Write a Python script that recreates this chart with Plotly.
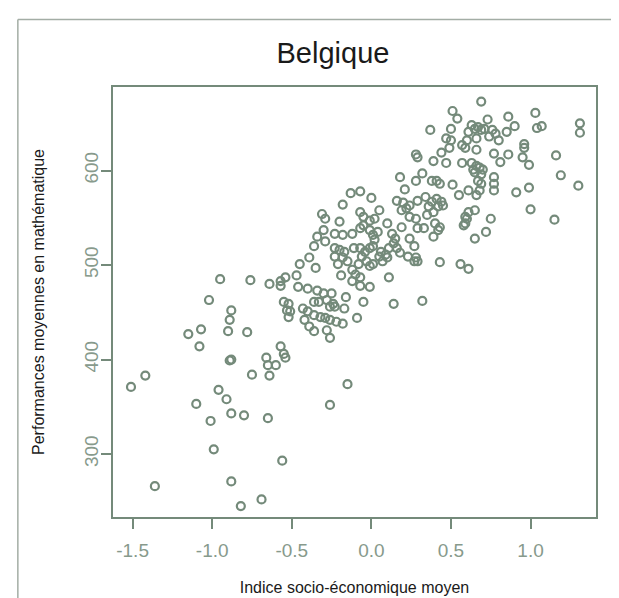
import plotly.graph_objects as go

# Indice socio-économique moyen (x) et performances moyennes en mathématique (y)
ises = [0.28, 0.29, 0.18, 0.28, 0.32, 0.21, -0.13, -0.07, 0.00, -0.18,
        0.16, 0.20, 0.19, 0.22, 0.24, 0.29, 0.05, -0.07, -0.31, -0.29,
        -0.05, 0.02, -0.20, 0.28,
        0.69, 0.51, 0.54, 0.37, 0.50, 0.73, 0.86, 1.03, 0.90, 0.85,
        1.04, 1.07, 1.31, 1.31, 0.63, 0.65, 0.67, 0.61, 0.69, 0.71,
        0.76, 0.78, 0.47, 0.50, 0.49, 0.60, 0.66, 0.74, 0.80, 0.57,
        0.59, 0.66, 0.96, 0.96, 0.44, 0.39, 0.47, 0.57, 0.63, 0.66,
        0.64, 0.68, 0.65, 0.69, 0.70, 0.77, 0.81, 0.86, 0.95, 0.99,
        1.16, 1.19, 1.30, 0.41, 0.43, 0.38, 0.51, 0.55, 0.61, 0.67,
        0.69, 0.68, 0.66, 0.77, 0.77, 0.77, 0.91, 0.99, 0.34, 0.38,
        0.41, 0.44, 0.36, 0.42, 0.45, 0.39, 0.35, 0.61, 0.65, 0.59,
        0.75, 1.00, 1.15,
        0.29, 0.33, 0.40, 0.43, 0.42, 0.39, 0.60, 0.59, 0.58, 0.72,
        0.65, 0.43, 0.56, 0.61, 0.29, 0.32,
        -0.01, 0.10, 0.19, 0.24, -0.05, -0.07, -0.30, -0.34, -0.29, -0.23,
        -0.18, -0.12, -0.01, 0.01, 0.04, 0.02, 0.13, 0.15, 0.14, 0.11,
        0.16, 0.24, 0.27, -0.36, -0.23, -0.20, -0.17, -0.11, -0.07, -0.04,
        -0.01, 0.01, 0.06, 0.09, 0.10, 0.07, 0.05, 0.18, 0.23, 0.28,
        0.27, -0.39, -0.23, -0.18, -0.15, -0.06, -0.03, -0.08, -0.01, 0.01,
        -0.21, -0.45, -0.35, -0.12, -0.10, -0.07, -0.19, -0.47, -0.54, -0.57,
        0.11, -0.64, -0.57, -0.12, -0.07, -0.01, -0.46, -0.40, -0.34, -0.30,
        -0.25, -0.16, -0.17, -0.05, 0.14, -0.55, -0.52, -0.53, -0.52, -0.51,
        -0.36, -0.33, -0.28, -0.24, -0.26, -0.23, -0.43, -0.40, -0.42, -0.36,
        -0.32, -0.29, -0.26, -0.22, -0.18, -0.09, -0.39, -0.36, -0.28, -0.26,
        -0.57,
        -0.95, -0.76, -1.02, -0.88, -0.89, -1.07, -1.15, -0.90, -0.78, -1.08,
        -1.51, -1.42, -1.36, -1.10, -1.01, -0.99, -0.96, -0.91, -0.88, -0.80,
        -0.75, -0.89, -0.88, -0.88, -0.66, -0.65, -0.60, -0.64, -0.55, -0.54,
        -0.65, -0.69, -0.15, -0.26, -0.56, -0.82]

maths = [617, 614, 593, 589, 597, 580, 576, 578, 571, 564,
         568, 566, 558, 560, 563, 568, 558, 556, 554, 549,
         551, 549, 546, 549,
         673, 663, 655, 643, 644, 654, 657, 661, 647, 641,
         645, 647, 650, 640, 648, 644, 646, 641, 643, 644,
         643, 639, 634, 632, 624, 632, 634, 636, 632, 627,
         624, 622, 628, 624, 619, 610, 608, 608, 608, 605,
         601, 603, 598, 596, 601, 618, 609, 617, 614, 606,
         616, 595, 584, 589, 586, 589, 585, 574, 579, 589,
         586, 579, 574, 593, 586, 579, 577, 582, 572, 567,
         570, 567, 562, 562, 563, 556, 553, 556, 558, 551,
         549, 559, 548,
         539, 539, 544, 540, 537, 530, 549, 544, 542, 535,
         528, 503, 501, 496, 504, 462,
         547, 544, 540, 551, 542, 539, 537, 530, 525, 533,
         532, 533, 537, 532, 535, 527, 533, 528, 523, 518,
         518, 528, 520, 520, 518, 516, 514, 518, 518, 514,
         518, 520, 514, 511, 508, 504, 509, 513, 509, 508,
         504, 508, 509, 508, 504, 509, 504, 501, 499, 501,
         501, 501, 497, 495, 490, 487, 489, 489, 487, 483,
         487, 480, 478, 483, 478, 477, 477, 475, 473, 470,
         470, 466, 454, 461, 459, 461, 459, 452, 445, 451,
         461, 461, 463, 459, 456, 456, 454, 451, 442, 447,
         445, 444, 442, 440, 438, 444, 435, 430, 431, 423,
         414,
         485, 484, 463, 452, 442, 432, 427, 430, 429, 414,
         371, 383, 266, 353, 335, 305, 368, 358, 343, 341,
         384, 399, 400, 271, 402, 394, 394, 383, 406, 402,
         338, 252, 374, 352, 293, 245]

x_ticks = [-1.5, -1.0, -0.5, 0.0, 0.5, 1.0]
x_tick_text = ["-1.5", "-1.0", "-0.5", "0.0", "0.5", "1.0"]
y_ticks = [300, 400, 500, 600]
y_tick_text = ["300", "400", "500", "600"]

green = "#748a7a"
tick_grey = "#879a8c"

fig = go.Figure()
fig.add_trace(go.Scatter(
    x=ises, y=maths, mode="markers",
    marker=dict(symbol="circle-open", size=8, color=green,
                line=dict(width=2.2, color=green)),
    hoverinfo="skip", showlegend=False))

axis_common = dict(showgrid=False, zeroline=False, showline=True, mirror=True,
                   linecolor=green, linewidth=2, ticks="outside", ticklen=10,
                   tickwidth=2, tickcolor=green,
                   tickfont=dict(family="Liberation Sans, Arial, sans-serif",
                                 size=19, color=tick_grey))

fig.update_layout(
    width=619, height=598,
    margin=dict(l=105, r=31, t=79, b=80),
    paper_bgcolor="white", plot_bgcolor="white",
    font=dict(family="Liberation Sans, Arial, sans-serif", color="#1a1a1a"),
    title=dict(text="Belgique", x=0.525, xanchor="center", y=0.925, yanchor="middle",
               font=dict(size=29, color="#1a1a1a")),
    xaxis=dict(range=[-1.623, 1.411], tickvals=x_ticks, ticktext=x_tick_text,
               ticklabelstandoff=5,
               title=dict(text="Indice socio-économique moyen", standoff=22,
                          font=dict(size=16, color="#1a1a1a")),
               **axis_common),
    yaxis=dict(range=[233.4, 688.4], tickvals=y_ticks, ticktext=y_tick_text,
               tickangle=-90, ticklabelstandoff=-5,
               title=dict(text="Performances moyennes en mathématique", standoff=33,
                          font=dict(size=16, color="#1a1a1a")),
               **axis_common),
)

# cadre extérieur gris
fig.add_shape(type="line", xref="paper", yref="paper", x0=-0.197, x1=1.1, y0=1.157, y1=1.157,
              line=dict(color="#a3ada5", width=1.5))
fig.add_shape(type="line", xref="paper", yref="paper", x0=-0.197, x1=-0.197, y0=-0.2, y1=1.157,
              line=dict(color="#a3ada5", width=1.5))

fig.write_html("out.html")
